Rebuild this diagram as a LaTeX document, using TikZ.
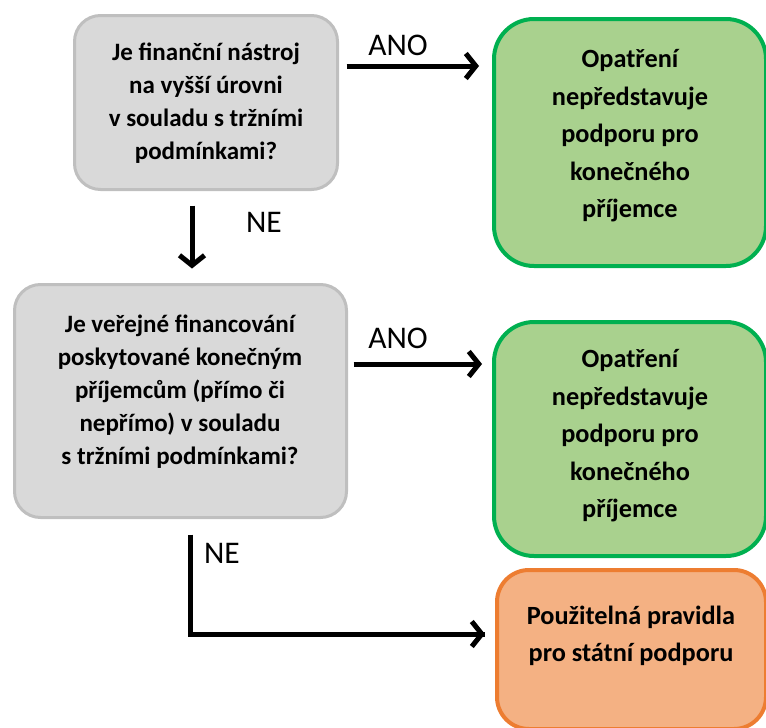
\documentclass[tikz,border=0pt]{standalone}
\usepackage{fontspec}
\setmainfont{Carlito}
\usetikzlibrary{arrows.meta,calc}

\definecolor{qfill}{HTML}{D9D9D9}
\definecolor{qline}{HTML}{BFBFBF}
\definecolor{gfill}{HTML}{A9D18E}
\definecolor{gline}{HTML}{00B050}
\definecolor{ofill}{HTML}{F4B183}
\definecolor{oline}{HTML}{ED7D31}

\tikzset{
  box/.style={inner sep=0pt, outer sep=0pt},
  question/.style={box, fill=qfill, draw=qline, line width=3pt, rounded corners=26pt},
  outcome/.style={box, fill=gfill, draw=gline, line width=4pt, rounded corners=40pt},
  rules/.style={box, fill=ofill, draw=oline, line width=4pt, rounded corners=32pt},
  qtext/.style={align=center, inner sep=0pt, font=\fontsize{25pt}{33pt}\selectfont\bfseries},
  atext/.style={align=center, inner sep=0pt, font=\fontsize{26.3pt}{37.5pt}\selectfont\bfseries},
  answer/.style={inner sep=0pt, font=\fontsize{31.5pt}{33pt}\selectfont},
  flow/.style={line width=5pt, -{Straight Barb[length=10pt,width=25pt]}},
}

\begin{document}
\begin{tikzpicture}[x=1pt,y=-1pt]
  \useasboundingbox (0,0) rectangle (766,728);
  \clip (0,0) rectangle (766,728);

  % boxes
  \node[question, minimum width=263pt, minimum height=174pt] (q1) at (206,102.5) {};
  \node[outcome, minimum width=272pt, minimum height=247pt] (y1) at (630,142.5) {};
  \node[question, minimum width=332pt, minimum height=233pt] (q2) at (180.5,401) {};
  \node[outcome, minimum width=272pt, minimum height=234pt] (y2) at (630,439) {};
  \node[rules, minimum width=269pt, minimum height=159pt] (r) at (631.5,649.5) {};

  % texts of the boxes
  \node[qtext] (q1t) at (206,103) {Je finanční nástroj\\na vyšší úrovni\\v souladu s tržními\\podmínkami?};
  \node[atext] (y1t) at (630,136) {Opatření\\nepředstavuje\\podporu pro\\konečného\\příjemce};
  \node[qtext] (q2t) at (180,392) {Je veřejné financování\\poskytované konečným\\příjemcům (přímo či\\nepřímo) v souladu\\s tržními podmínkami?};
  \node[atext] (y2t) at (630,436) {Opatření\\nepředstavuje\\podporu pro\\konečného\\příjemce};
  \node[atext] (rt) at (631,636) {Použitelná pravidla\\pro státní podporu};

  % connectors
  \draw[flow, shorten <=9pt, shorten >=15pt] (q1.east |- 0,66) -- (y1.west |- 0,66);
  \draw[flow, shorten <=16pt, shorten >=16pt] (q1.south -| 192,0) -- (q2.north -| 192,0);
  \draw[flow, shorten <=7pt, shorten >=12pt] (q2.east |- 0,364) -- (y2.west |- 0,364);
  \draw[line width=5pt, line join=miter] (q2.south -| 190,0) ++(0,17) |- ($(r.west |- 0,634)+(-12,0)$) coordinate (rin);
  \draw[flow] ($(rin)+(-2,0)$) -- (rin);

  % answers
  \node[answer] (a1) at (398,45) {ANO};
  \node[answer] (n1) at (264,222) {NE};
  \node[answer] (a2) at (398,338) {ANO};
  \node[answer] (n2) at (222,553) {NE};
\end{tikzpicture}
\end{document}
